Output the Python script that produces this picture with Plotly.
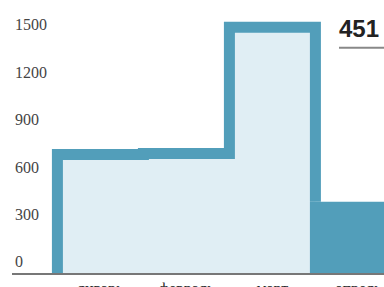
import plotly.graph_objects as go

categories = ["январь", "февраль", "март", "апрель"]
values = [750, 756, 1555, 451]
y_ticks = [0, 300, 600, 900, 1200, 1500]

BLUE = "#529eba"
LIGHT = "#e0eef4"
BORDER = 11

idx = list(range(len(categories)))
step_x = [idx[0] - 0.5, idx[0] - 0.5, idx[1] - 0.5, idx[2] - 0.5, idx[3] - 0.5]
step_y = [0, values[0], values[1], values[2], values[3]]

fig = go.Figure()
fig.add_trace(go.Scatter(
    x=step_x, y=step_y, mode="lines", line=dict(shape="hv", color=BLUE, width=BORDER),
    fill="tozeroy", fillcolor=LIGHT, hoverinfo="skip", showlegend=False))

px_per_x = 86.0
half = (BORDER / 2) / px_per_x
fig.add_trace(go.Scatter(
    x=[idx[3] - 0.5 - half, idx[3] + 0.5], y=[values[3], values[3]], mode="lines",
    line=dict(width=0, color=BLUE), fill="tozeroy", fillcolor=BLUE,
    hoverinfo="skip", showlegend=False))

fig.add_annotation(text=f"<b>{values[3]}</b>", xref="paper", yref="paper", x=1, y=1,
                   xanchor="right", yanchor="top", xshift=-3, yshift=-3, showarrow=False,
                   font=dict(family="Liberation Sans", size=24, color="#222"))
fig.add_shape(type="line", xref="paper", yref="paper", x0=(339 - 12) / 372, x1=1,
              y0=(273 - 47.7) / 263, y1=(273 - 47.7) / 263,
              line=dict(color="#888", width=2))

x0 = -1.028
fig.update_layout(
    width=384, height=287, margin=dict(l=12, r=0, t=10, b=14, autoexpand=False),
    paper_bgcolor="white", plot_bgcolor="white",
    font=dict(family="Liberation Serif", size=16, color="#2a2a2a"),
    xaxis=dict(range=[x0, x0 + 372 / px_per_x], tickvals=idx, ticktext=categories,
               showgrid=False, zeroline=False, showline=True, linecolor="#777",
               linewidth=2, ticks="", automargin=False),
    yaxis=dict(range=[0, 1664], tickvals=y_ticks, ticktext=[str(v) for v in y_ticks],
               ticklabelposition="inside top", showgrid=False, zeroline=False,
               showline=False, ticks="", automargin=False),
)
fig.write_html("out.html", config={"displayModeBar": False},
               post_script="document.body.style.margin='0px';document.body.style.overflow='hidden';")
